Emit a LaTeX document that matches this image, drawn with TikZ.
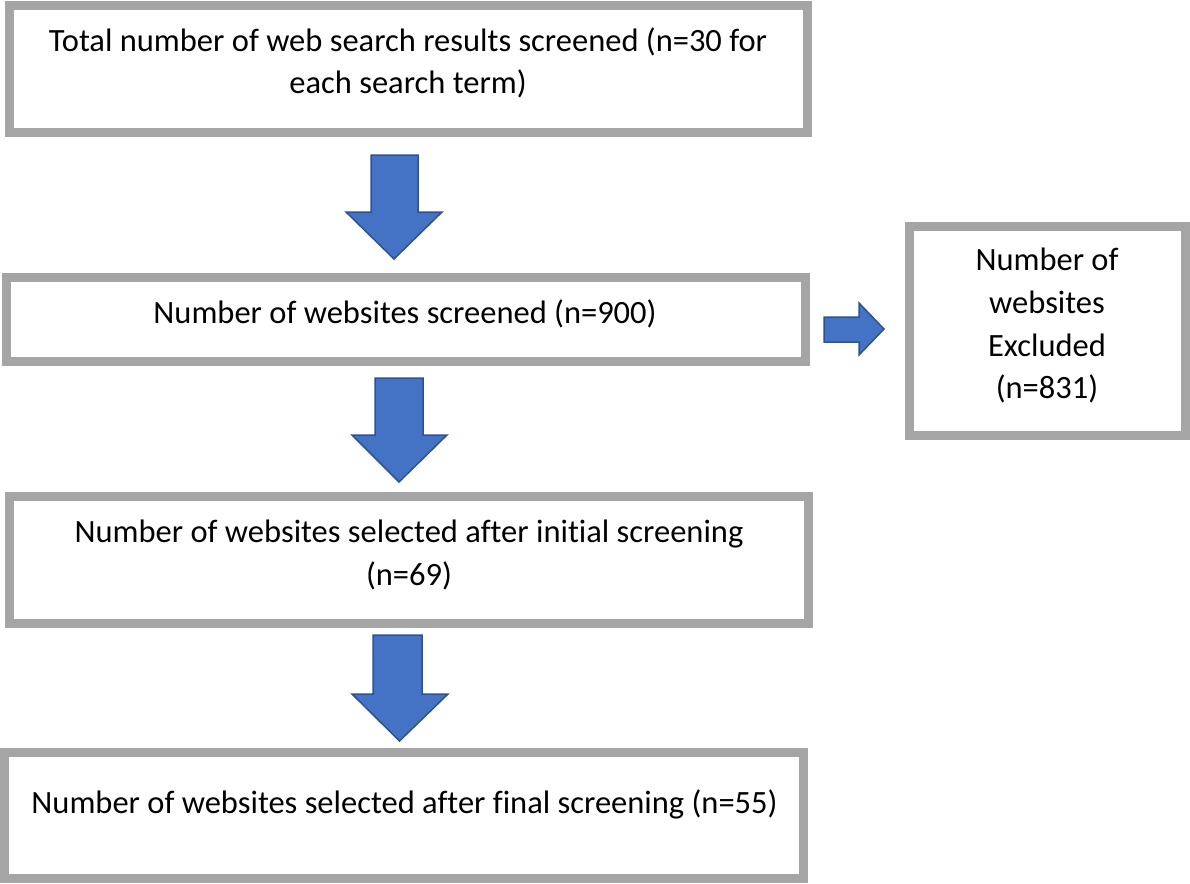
\documentclass[tikz,border=0pt]{standalone}
\usepackage{fontspec}
\setmainfont[Ligatures=NoCommon]{Carlito}
\definecolor{boxgray}{HTML}{A5A5A5}
\definecolor{arrfill}{HTML}{4472C4}
\definecolor{arrline}{HTML}{2F528F}
\tikzset{
  boxnode/.style={draw=boxgray, line width=9pt, fill=white, inner sep=0pt, outer sep=0pt},
  txt/.style={anchor=base, inner sep=0pt, font=\fontsize{32.5}{39}\selectfont},
  blockarrow/.style={fill=arrfill, draw=arrline, line width=1.5pt, line join=miter}
}
\begin{document}
\begin{tikzpicture}[x=1pt,y=-1pt]
\useasboundingbox (0,0) rectangle (1190,883);
% boxes
\node[boxnode, minimum width=798pt, minimum height=127pt] (b1) at (408.5,69) {};
\node[boxnode, minimum width=799pt, minimum height=84pt] (b2) at (406,319.5) {};
\node[boxnode, minimum width=799pt, minimum height=127pt] (b3) at (409,560) {};
\node[boxnode, minimum width=799pt, minimum height=126pt] (b4) at (404,815.5) {};
\node[boxnode, minimum width=276pt, minimum height=209pt] (b5) at (1047.5,331) {};
% texts
\node[txt] (t1a) at (408,51.7) {Total number of web search results screened (n=30 for};
\node[txt] (t1b) at (408,93.3) {each search term)};
\node[txt] (t2) at (405,323.3) {Number of websites screened (n=900)};
\node[txt] (t3a) at (409,542.7) {Number of websites selected after initial screening};
\node[txt] (t3b) at (409,585) {(n=69)};
\node[txt] (t4) at (404.5,813) {Number of websites selected after final screening (n=55)};
\node[txt] (t5a) at (1047,270.7) {Number of};
\node[txt] (t5b) at (1047,313.3) {websites};
\node[txt] (t5c) at (1047,356) {Excluded};
\node[txt] (t5d) at (1047,398.6) {(n=831)};
% block arrows
\draw[blockarrow] (371,155) -- (418,155) -- (418,212) -- (442,212) -- (394,259) -- (346,212) -- (371,212) -- cycle;
\draw[blockarrow] (375,378) -- (423,378) -- (423,435) -- (447,435) -- (399,482) -- (352,435) -- (375,435) -- cycle;
\draw[blockarrow] (373,635) -- (422,635) -- (422,694) -- (448,694) -- (399.5,741) -- (352,694) -- (373,694) -- cycle;
\draw[blockarrow] (824,317) -- (859,317) -- (859,303) -- (884,329) -- (859,355) -- (859,342) -- (824,342) -- cycle;
\end{tikzpicture}
\end{document}
